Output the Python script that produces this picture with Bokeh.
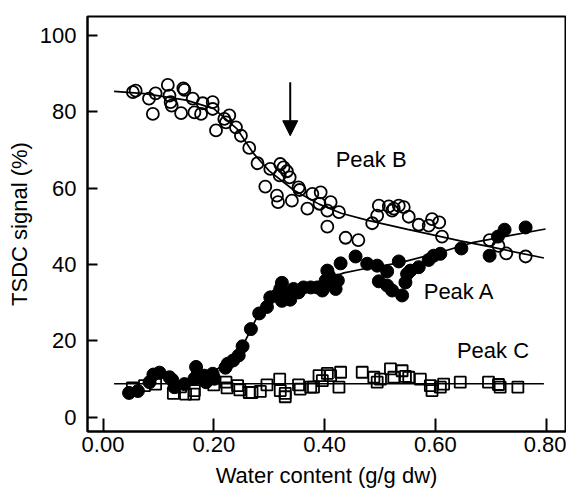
from bokeh.plotting import figure
from bokeh.models import Range1d, FixedTicker, Arrow, NormalHead, NumeralTickFormatter
from bokeh.core.properties import value
from bokeh.embed import file_html
from bokeh.resources import INLINE

FONT = "Liberation Sans"

# Peak B (open circles)
b_x = [0.054, 0.059, 0.083, 0.090, 0.095, 0.117, 0.120, 0.122, 0.124, 0.141, 0.145, 0.147, 0.162, 0.165,
       0.177, 0.180, 0.198, 0.198, 0.204, 0.219, 0.222, 0.228, 0.240, 0.249, 0.264, 0.279, 0.293, 0.302,
       0.314, 0.316, 0.319, 0.320, 0.326, 0.332, 0.337, 0.341, 0.353, 0.355, 0.369, 0.378, 0.391, 0.393,
       0.405, 0.405, 0.411, 0.426, 0.438, 0.461, 0.486, 0.495, 0.498, 0.516, 0.522, 0.525, 0.534, 0.543,
       0.552, 0.570, 0.588, 0.594, 0.607, 0.612, 0.698, 0.714, 0.728, 0.763]
b_y = [85.1, 85.5, 83.4, 79.4, 84.8, 87.0, 84.2, 82.5, 81.6, 79.6, 86.1, 85.7, 83.4, 79.8,
       79.4, 82.2, 82.5, 80.7, 75.1, 78.1, 77.2, 79.0, 75.9, 73.7, 70.5, 66.5, 60.4, 65.0,
       58.0, 56.3, 63.3, 66.3, 65.4, 64.4, 62.8, 56.7, 60.2, 59.5, 54.6, 58.5, 55.9, 58.9,
       54.1, 49.9, 56.3, 53.7, 47.0, 46.4, 50.8, 52.8, 55.4, 55.2, 54.1, 54.6, 55.4, 55.0,
       52.5, 50.4, 50.2, 51.9, 51.0, 47.3, 46.4, 44.9, 42.9, 42.1]

# Peak A (filled circles)
a_x = [0.047, 0.063, 0.084, 0.091, 0.102, 0.120, 0.125, 0.129, 0.147, 0.165, 0.168, 0.171, 0.183, 0.186,
       0.198, 0.201, 0.221, 0.225, 0.235, 0.245, 0.252, 0.267, 0.282, 0.296, 0.302, 0.314, 0.320, 0.323,
       0.323, 0.329, 0.338, 0.344, 0.347, 0.353, 0.362, 0.375, 0.387, 0.396, 0.402, 0.405, 0.408, 0.414,
       0.420, 0.424, 0.429, 0.456, 0.477, 0.495, 0.498, 0.513, 0.513, 0.522, 0.540, 0.534, 0.546, 0.549,
       0.555, 0.570, 0.588, 0.597, 0.609, 0.647, 0.698, 0.713, 0.725, 0.763]
a_y = [6.4, 6.9, 9.2, 11.2, 11.7, 10.5, 9.8, 7.9, 8.7, 10.1, 13.2, 11.4, 10.9, 9.2,
       11.4, 10.1, 13.0, 14.0, 14.9, 16.2, 18.6, 23.1, 27.2, 28.9, 31.4, 32.0, 33.6, 35.2,
       30.5, 32.3, 30.8, 33.6, 32.7, 32.7, 34.0, 34.0, 34.0, 33.2, 35.8, 38.4, 37.1, 34.9,
       33.6, 35.8, 40.3, 42.1, 40.2, 39.7, 35.6, 38.2, 34.5, 33.2, 31.9, 40.8, 35.3, 37.5,
       38.4, 39.3, 41.2, 42.3, 42.8, 44.2, 42.3, 47.3, 49.1, 49.7]

# Peak C (open squares)
c_x = [0.053, 0.075, 0.095, 0.127, 0.140, 0.149, 0.164, 0.165, 0.200, 0.222, 0.224, 0.243, 0.247, 0.264,
       0.269, 0.284, 0.296, 0.319, 0.320, 0.329, 0.329, 0.353, 0.356, 0.375, 0.380, 0.390, 0.396, 0.405,
       0.411, 0.426, 0.429, 0.468, 0.489, 0.495, 0.501, 0.519, 0.525, 0.540, 0.546, 0.552, 0.573, 0.591,
       0.594, 0.609, 0.615, 0.645, 0.696, 0.714, 0.717, 0.749]
c_y = [7.7, 8.3, 8.7, 6.3, 8.0, 6.1, 6.1, 7.0, 8.5, 9.2, 7.7, 8.3, 7.2, 6.5,
       6.5, 6.8, 8.5, 10.0, 7.0, 5.4, 6.3, 8.5, 7.4, 7.9, 7.9, 10.9, 9.6, 11.5,
       10.9, 7.9, 11.8, 11.8, 10.5, 9.2, 10.0, 12.7, 10.5, 12.2, 10.7, 10.5, 10.0, 8.3,
       7.0, 7.9, 8.7, 9.2, 9.2, 8.6, 7.9, 7.9]

# Fitted curves
b_fit_x = [0.02, 0.075, 0.15, 0.20, 0.242, 0.272, 0.30, 0.344, 0.39, 0.43, 0.48, 0.55, 0.645, 0.70, 0.796]
b_fit_y = [85.3, 84.7, 83.0, 80.8, 75.5, 69.0, 64.5, 59.5, 55.8, 53.4, 51.5, 49.2, 46.2, 44.6, 41.7]
a_fit_x = [0.19, 0.20, 0.224, 0.254, 0.278, 0.308, 0.33, 0.36, 0.392, 0.435, 0.465, 0.537, 0.609, 0.669, 0.799]
a_fit_y = [11.5, 12.2, 14.0, 19.2, 26.2, 31.0, 33.0, 34.2, 35.6, 37.8, 38.7, 40.5, 43.2, 45.8, 49.3]
c_fit_x = [0.02, 0.796]
c_fit_y = [8.8, 8.8]

# Annotations
label_text = ["Peak B", "Peak A", "Peak C"]
label_x = [0.42, 0.579, 0.639]
label_y = [67.6, 33.0, 17.5]
arrow_x = 0.338
arrow_y_top = 87.7
arrow_y_tip = 73.7

x_ticks = [0.0, 0.2, 0.4, 0.6, 0.8]
y_ticks = [0, 20, 40, 60, 80, 100]

p = figure(width=566, height=498, x_range=Range1d(-0.028, 0.835), y_range=Range1d(-3.7, 104.9),
           output_backend="svg", toolbar_location=None,
           min_border_left=87, min_border_right=1, min_border_top=16, min_border_bottom=67)
p.xgrid.visible = False
p.ygrid.visible = False
p.outline_line_color = "black"
p.outline_line_width = 2
p.background_fill_color = "white"
p.border_fill_color = "white"

for ax in (p.xaxis[0], p.yaxis[0]):
    ax.axis_line_width = 2
    ax.axis_line_color = "black"
    ax.major_tick_line_width = 2
    ax.major_tick_line_color = "black"
    ax.major_tick_out = 0
    ax.minor_tick_line_color = None
    ax.major_label_text_font = FONT
    ax.major_label_text_font_size = "22px"
    ax.major_label_text_color = "black"
    ax.axis_label_text_font = FONT
    ax.axis_label_text_font_size = "22px"
    ax.axis_label_text_font_style = "normal"
    ax.axis_label_text_color = "black"

p.xaxis.ticker = FixedTicker(ticks=x_ticks)
p.xaxis.formatter = NumeralTickFormatter(format="0.00")
p.xaxis.major_tick_in = 13
p.xaxis.major_label_standoff = 5
p.xaxis.axis_label = "Water content (g/g dw)"
p.xaxis.axis_label_standoff = 8

p.yaxis.ticker = FixedTicker(ticks=y_ticks)
p.yaxis.major_tick_in = 10
p.yaxis.major_label_standoff = 11
p.yaxis.axis_label = "TSDC signal (%)"
p.yaxis.axis_label_standoff = 5

p.line(b_fit_x, b_fit_y, line_color="black", line_width=1.7)
p.line(a_fit_x, a_fit_y, line_color="black", line_width=1.7)
p.line(c_fit_x, c_fit_y, line_color="black", line_width=1.7)

p.scatter(c_x, c_y, marker="square", size=11, fill_alpha=0, line_color="black", line_width=1.8)
p.scatter(b_x, b_y, marker="circle", size=12, fill_alpha=0, line_color="black", line_width=1.8)
p.scatter(a_x, a_y, marker="circle", size=13, fill_color="black", line_color="black")

p.add_layout(Arrow(end=NormalHead(size=15, fill_color="black", line_color="black"),
                   x_start=arrow_x, y_start=arrow_y_top, x_end=arrow_x, y_end=arrow_y_tip,
                   line_width=2, line_color="black"))

p.text(x=label_x, y=label_y, text=label_text, text_font=value(FONT), text_font_size=value("22px"),
       text_baseline="middle", text_align="left", text_color="black")

open("out.html", "w").write(file_html(p, INLINE))
